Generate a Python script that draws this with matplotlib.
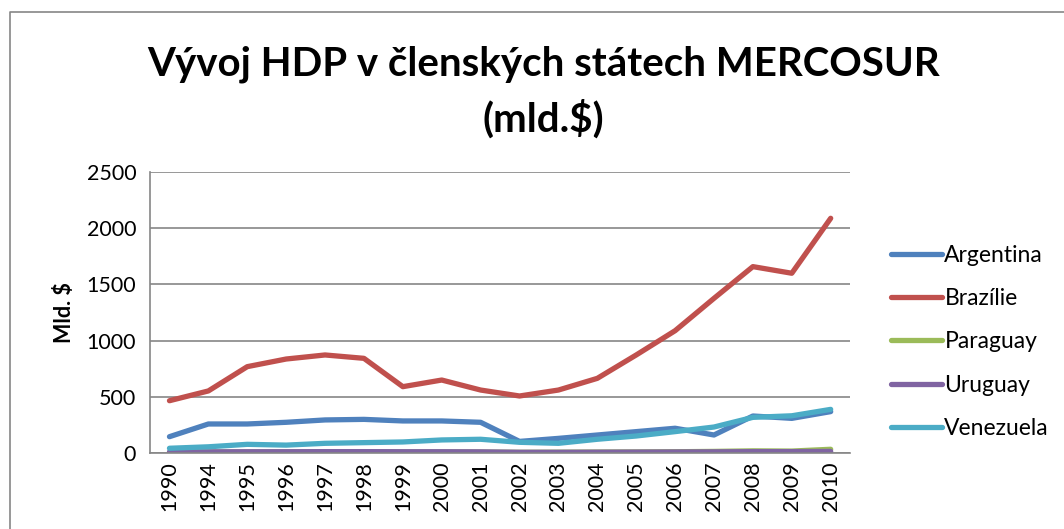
import matplotlib.pyplot as plt
from matplotlib.lines import Line2D

plt.rcParams['font.family'] = ['Lato', 'DejaVu Sans']

years = ['1990', '1994', '1995', '1996', '1997', '1998', '1999', '2000', '2001',
         '2002', '2003', '2004', '2005', '2006', '2007', '2008', '2009', '2010']

argentina = [145, 258, 258, 273, 294, 299, 285, 285, 273,
             103, 130, 160, 190, 220, 160, 329, 308, 368]
brazilie = [465, 552, 768, 836, 872, 842, 590, 649, 560,
            507, 560, 664, 872, 1088, 1376, 1658, 1599, 2088]
paraguay = [5, 8, 9, 10, 10, 10, 9, 9, 8,
            6, 7, 8, 9, 11, 14, 19, 17, 33]
uruguay = [9, 10, 11, 11, 12, 12, 11, 11, 10,
           6, 6, 7, 8, 9, 10, 12, 12, 14]
venezuela = [42, 55, 77, 70, 86, 92, 98, 116, 122,
             95, 86, 122, 151, 190, 231, 317, 331, 388]

names = ['Argentina', 'Brazílie', 'Paraguay', 'Uruguay', 'Venezuela']
colors = ['#4F81BD', '#C0504D', '#9BBB59', '#8064A2', '#4BACC6']

fig = plt.figure(figsize=(10.64, 5.29), dpi=100)
ax = fig.add_axes([0.141, 0.1437, 0.658, 0.5312])

x = range(len(years))
for vals, name, col in zip([argentina, brazilie, paraguay, uruguay, venezuela], names, colors):
    ax.plot(x, vals, color=col, lw=3.8, label=name, solid_capstyle='round')

ax.set_xlim(-0.5, len(years) - 0.5)
ax.set_ylim(0, 2500)
ax.set_yticks(range(0, 2501, 500))
ax.set_xticks(list(x))
ax.set_xticklabels(years, rotation=90)
ax.tick_params(axis='both', labelsize=15.5, colors='#000000', length=0, pad=6)
ax.tick_params(axis='y', pad=10)

# gridlines and axes like Excel
ax.grid(axis='y', color='#868686', lw=1.2)
ax.set_axisbelow(True)
for s in ['top', 'right']:
    ax.spines[s].set_visible(False)
for s in ['left', 'bottom']:
    ax.spines[s].set_color('#868686')
    ax.spines[s].set_linewidth(1.2)

ax.set_ylabel('Mld. $', fontsize=15.5, fontweight='bold', labelpad=8)

fig.text(0.511, 0.826, 'Vývoj HDP v členských státech MERCOSUR\n(mld.$)',
         ha='center', va='center', fontsize=29, fontweight='bold', linespacing=1.5)

handles = [Line2D([0], [0], color=c, lw=3.8, solid_capstyle='round') for c in colors]
fig.legend(handles, names, loc='upper left', bbox_to_anchor=(0.829, 0.555),
           frameon=False, fontsize=16.5, handlelength=2.2, handletextpad=0.12,
           labelspacing=0.98, borderaxespad=0)

# chart area border (top and left visible)
fig.add_artist(Line2D([10 / 1064, 10 / 1064, 1.0], [0.0, 1 - 12 / 529, 1 - 12 / 529],
                      transform=fig.transFigure, color='#868686', lw=1.2))

fig.savefig('out.png', dpi=100)
